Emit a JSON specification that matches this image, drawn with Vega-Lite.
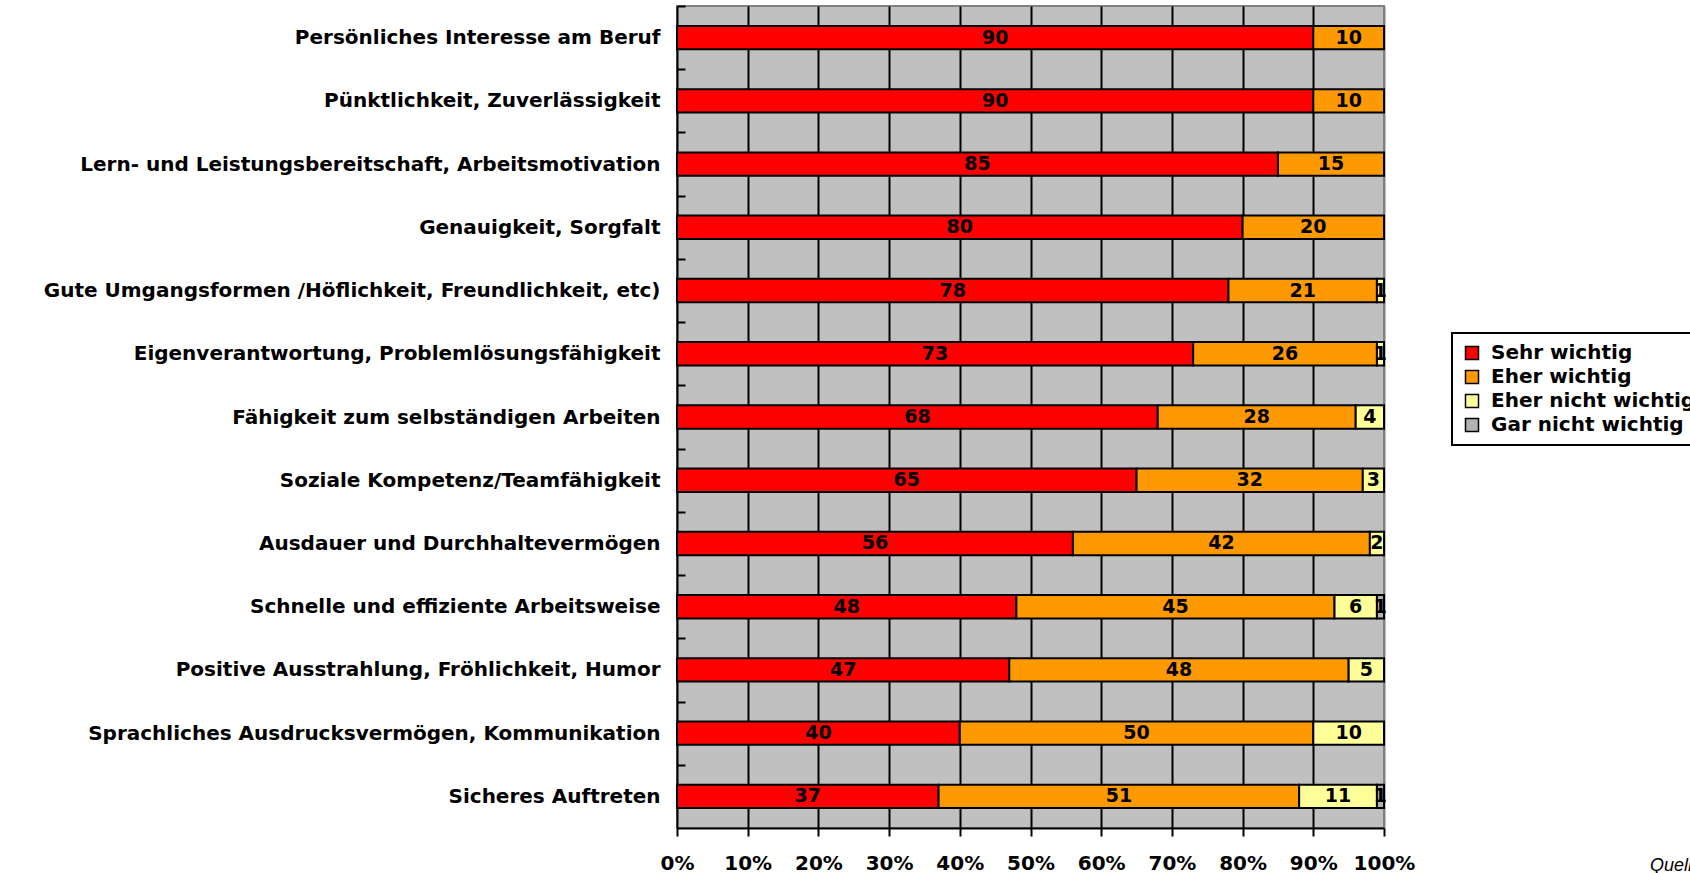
{
  "$schema": "https://vega.github.io/schema/vega-lite/v6.json",
  "width": 707,
  "height": 822,
  "autosize": {"type": "none"},
  "padding": {"left": 677, "top": 6, "right": 306, "bottom": 45},
  "background": "white",
  "config": {
    "view": {"fill": "#c0c0c0", "stroke": "#808080", "strokeWidth": 2},
    "font": "DejaVu Sans"
  },
  "title": {
    "text": "Quelle:",
    "orient": "bottom",
    "anchor": "start",
    "frame": "group",
    "dx": 973,
    "offset": -16,
    "font": "Liberation Sans",
    "fontStyle": "italic",
    "fontWeight": "normal",
    "fontSize": 18,
    "color": "black"
  },
  "data": {
    "values": [
      {"merkmal": "Persönliches Interesse am Beruf", "bewertung": "Sehr wichtig", "rang": 1, "anteil": 90},
      {"merkmal": "Persönliches Interesse am Beruf", "bewertung": "Eher wichtig", "rang": 2, "anteil": 10},
      {"merkmal": "Pünktlichkeit, Zuverlässigkeit", "bewertung": "Sehr wichtig", "rang": 1, "anteil": 90},
      {"merkmal": "Pünktlichkeit, Zuverlässigkeit", "bewertung": "Eher wichtig", "rang": 2, "anteil": 10},
      {"merkmal": "Lern- und Leistungsbereitschaft, Arbeitsmotivation", "bewertung": "Sehr wichtig", "rang": 1, "anteil": 85},
      {"merkmal": "Lern- und Leistungsbereitschaft, Arbeitsmotivation", "bewertung": "Eher wichtig", "rang": 2, "anteil": 15},
      {"merkmal": "Genauigkeit, Sorgfalt", "bewertung": "Sehr wichtig", "rang": 1, "anteil": 80},
      {"merkmal": "Genauigkeit, Sorgfalt", "bewertung": "Eher wichtig", "rang": 2, "anteil": 20},
      {"merkmal": "Gute Umgangsformen /Höflichkeit, Freundlichkeit, etc)", "bewertung": "Sehr wichtig", "rang": 1, "anteil": 78},
      {"merkmal": "Gute Umgangsformen /Höflichkeit, Freundlichkeit, etc)", "bewertung": "Eher wichtig", "rang": 2, "anteil": 21},
      {"merkmal": "Gute Umgangsformen /Höflichkeit, Freundlichkeit, etc)", "bewertung": "Eher nicht wichtig", "rang": 3, "anteil": 1},
      {"merkmal": "Eigenverantwortung, Problemlösungsfähigkeit", "bewertung": "Sehr wichtig", "rang": 1, "anteil": 73},
      {"merkmal": "Eigenverantwortung, Problemlösungsfähigkeit", "bewertung": "Eher wichtig", "rang": 2, "anteil": 26},
      {"merkmal": "Eigenverantwortung, Problemlösungsfähigkeit", "bewertung": "Eher nicht wichtig", "rang": 3, "anteil": 1},
      {"merkmal": "Fähigkeit zum selbständigen Arbeiten", "bewertung": "Sehr wichtig", "rang": 1, "anteil": 68},
      {"merkmal": "Fähigkeit zum selbständigen Arbeiten", "bewertung": "Eher wichtig", "rang": 2, "anteil": 28},
      {"merkmal": "Fähigkeit zum selbständigen Arbeiten", "bewertung": "Eher nicht wichtig", "rang": 3, "anteil": 4},
      {"merkmal": "Soziale Kompetenz/Teamfähigkeit", "bewertung": "Sehr wichtig", "rang": 1, "anteil": 65},
      {"merkmal": "Soziale Kompetenz/Teamfähigkeit", "bewertung": "Eher wichtig", "rang": 2, "anteil": 32},
      {"merkmal": "Soziale Kompetenz/Teamfähigkeit", "bewertung": "Eher nicht wichtig", "rang": 3, "anteil": 3},
      {"merkmal": "Ausdauer und Durchhaltevermögen", "bewertung": "Sehr wichtig", "rang": 1, "anteil": 56},
      {"merkmal": "Ausdauer und Durchhaltevermögen", "bewertung": "Eher wichtig", "rang": 2, "anteil": 42},
      {"merkmal": "Ausdauer und Durchhaltevermögen", "bewertung": "Eher nicht wichtig", "rang": 3, "anteil": 2},
      {"merkmal": "Schnelle und effiziente Arbeitsweise", "bewertung": "Sehr wichtig", "rang": 1, "anteil": 48},
      {"merkmal": "Schnelle und effiziente Arbeitsweise", "bewertung": "Eher wichtig", "rang": 2, "anteil": 45},
      {"merkmal": "Schnelle und effiziente Arbeitsweise", "bewertung": "Eher nicht wichtig", "rang": 3, "anteil": 6},
      {"merkmal": "Schnelle und effiziente Arbeitsweise", "bewertung": "Gar nicht wichtig", "rang": 4, "anteil": 1},
      {"merkmal": "Positive Ausstrahlung, Fröhlichkeit, Humor", "bewertung": "Sehr wichtig", "rang": 1, "anteil": 47},
      {"merkmal": "Positive Ausstrahlung, Fröhlichkeit, Humor", "bewertung": "Eher wichtig", "rang": 2, "anteil": 48},
      {"merkmal": "Positive Ausstrahlung, Fröhlichkeit, Humor", "bewertung": "Eher nicht wichtig", "rang": 3, "anteil": 5},
      {"merkmal": "Sprachliches Ausdrucksvermögen, Kommunikation", "bewertung": "Sehr wichtig", "rang": 1, "anteil": 40},
      {"merkmal": "Sprachliches Ausdrucksvermögen, Kommunikation", "bewertung": "Eher wichtig", "rang": 2, "anteil": 50},
      {"merkmal": "Sprachliches Ausdrucksvermögen, Kommunikation", "bewertung": "Eher nicht wichtig", "rang": 3, "anteil": 10},
      {"merkmal": "Sicheres Auftreten", "bewertung": "Sehr wichtig", "rang": 1, "anteil": 37},
      {"merkmal": "Sicheres Auftreten", "bewertung": "Eher wichtig", "rang": 2, "anteil": 51},
      {"merkmal": "Sicheres Auftreten", "bewertung": "Eher nicht wichtig", "rang": 3, "anteil": 11},
      {"merkmal": "Sicheres Auftreten", "bewertung": "Gar nicht wichtig", "rang": 4, "anteil": 1}
    ]
  },
  "encoding": {
    "y": {
      "field": "merkmal",
      "type": "nominal",
      "sort": null,
      "scale": {"paddingInner": 0.63, "paddingOuter": 0.315},
      "axis": {
        "title": null,
        "offset": -8,
        "domain": false,
        "ticks": true,
        "tickOffset": -31.6,
        "labelOffset": 31.6,
        "tickColor": "black",
        "tickWidth": 2,
        "tickSize": 8,
        "tickOpacity": 1,
        "labelPadding": 17,
        "labelLimit": 700,
        "labelFont": "DejaVu Sans",
        "labelFontWeight": "bold",
        "labelFontSize": 20,
        "labelColor": "black",
        "grid": false,
        "zindex": 1
      }
    }
  },
  "layer": [
    {
      "mark": {"type": "bar", "stroke": "black", "strokeWidth": 2},
      "encoding": {
        "x": {
          "field": "anteil",
          "type": "quantitative",
          "stack": "zero",
          "scale": {"domain": [0, 100], "nice": false},
          "axis": {
            "title": null,
            "values": [0, 10, 20, 30, 40, 50, 60, 70, 80, 90, 100],
            "labelExpr": "datum.value + '%'",
            "domainColor": "black",
            "domainWidth": 2,
            "tickColor": "black",
            "tickWidth": 2,
            "tickSize": 8,
            "labelPadding": 17,
            "labelFont": "DejaVu Sans",
            "labelFontWeight": "bold",
            "labelFontSize": 20,
            "labelColor": "black",
            "labelFlush": false,
            "grid": true,
            "gridColor": {"condition": {"test": "datum.value == 100", "value": "#808080"}, "value": "black"},
            "gridWidth": 2,
            "gridOpacity": 1
          }
        },
        "color": {
          "field": "bewertung",
          "type": "nominal",
          "scale": {
            "domain": ["Sehr wichtig", "Eher wichtig", "Eher nicht wichtig", "Gar nicht wichtig"],
            "range": ["#ff0000", "#ff9900", "#ffff99", "#b2b2b2"]
          },
          "legend": {
            "title": null,
            "orient": "none",
            "legendX": 775,
            "legendY": 327,
            "symbolType": "square",
            "symbolSize": 169,
            "symbolStrokeColor": "black",
            "symbolStrokeWidth": 1.5,
            "symbolOpacity": 1,
            "labelFont": "DejaVu Sans",
            "labelFontWeight": "bold",
            "labelFontSize": 20,
            "labelColor": "black",
            "labelOffset": 9,
            "labelLimit": 400,
            "rowPadding": 4,
            "padding": 10,
            "strokeColor": "black",
            "fillColor": "white",
            "encode": {"legend": {"update": {"strokeWidth": {"value": 2}}}}
          }
        },
        "order": {"field": "rang"}
      }
    },
    {
      "mark": {
        "type": "text",
        "font": "DejaVu Sans",
        "fontWeight": "bold",
        "fontSize": 19,
        "color": "black",
        "baseline": "middle",
        "align": "center"
      },
      "encoding": {
        "x": {"field": "anteil", "type": "quantitative", "stack": "zero", "bandPosition": 0.5},
        "detail": {"field": "bewertung"},
        "order": {"field": "rang"},
        "text": {"field": "anteil"}
      }
    }
  ]
}
